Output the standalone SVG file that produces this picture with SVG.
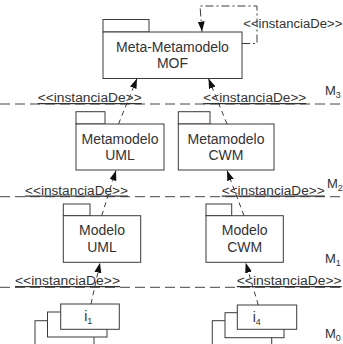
<svg xmlns="http://www.w3.org/2000/svg" width="343" height="344" viewBox="0 0 343 344">
<style>
.box{fill:#fff;stroke:#3a3a3a;stroke-width:1}
.nt{font-family:"Liberation Sans",Arial,sans-serif;font-size:14px;fill:#333;text-anchor:middle}
.lbl{font-family:"Liberation Sans",Arial,sans-serif;font-size:12.5px;fill:#333;text-decoration:underline}
.lvl{font-family:"Liberation Sans",Arial,sans-serif;font-size:13px;fill:#333}
.sub{font-size:9px}
.sep{stroke:#444;stroke-width:1;stroke-dasharray:10,5;fill:none}
.dep{stroke:#3a3a3a;stroke-width:1;stroke-dasharray:5,4;fill:none;marker-end:url(#ah)}
.loop{stroke:#3a3a3a;stroke-width:1;stroke-dasharray:8,3,2,3;fill:none;marker-end:url(#ah)}
</style>
<defs>
<marker id="ah" markerUnits="userSpaceOnUse" markerWidth="11" markerHeight="8" refX="10" refY="3.5" orient="auto">
<path d="M0,0 L10,3.5 L0,7 z" fill="#111"/>
</marker>
</defs>
<rect width="343" height="344" fill="#fff"/>
<g id="separators">
<line class="sep" x1="0" y1="104" x2="343" y2="104"/>
<line class="sep" x1="0" y1="196.7" x2="343" y2="196.7"/>
<line class="sep" x1="0" y1="287.3" x2="343" y2="287.3"/>
</g>
<g id="levels">
<text class="lvl" x="325" y="95">M<tspan class="sub" dy="3">3</tspan></text>
<text class="lvl" x="327" y="188">M<tspan class="sub" dy="3">2</tspan></text>
<text class="lvl" x="325" y="263">M<tspan class="sub" dy="3">1</tspan></text>
<text class="lvl" x="325" y="338">M<tspan class="sub" dy="3">0</tspan></text>
</g>
<g id="mof">
<rect class="box" x="103" y="19.5" width="46" height="12.5"/>
<rect class="box" x="103" y="32" width="139" height="46.5"/>
<text class="nt" x="172.5" y="52">Meta-Metamodelo</text>
<text class="nt" x="172.5" y="68">MOF</text>
</g>
<g id="metamodelo-uml">
<rect class="box" x="76" y="111.7" width="29" height="12.3"/>
<rect class="box" x="76" y="124" width="88" height="46"/>
<text class="nt" x="120" y="143.5">Metamodelo</text>
<text class="nt" x="120" y="160">UML</text>
</g>
<g id="metamodelo-cwm">
<rect class="box" x="178.3" y="111.7" width="31.7" height="12.3"/>
<rect class="box" x="178.3" y="124" width="95.7" height="46"/>
<text class="nt" x="226" y="143.5">Metamodelo</text>
<text class="nt" x="226" y="160">CWM</text>
</g>
<g id="modelo-uml">
<rect class="box" x="63.3" y="204" width="26.7" height="11.7"/>
<rect class="box" x="63.3" y="215.7" width="77.4" height="46.6"/>
<text class="nt" x="102" y="235">Modelo</text>
<text class="nt" x="102" y="251.7">UML</text>
</g>
<g id="modelo-cwm">
<rect class="box" x="206" y="204" width="25.7" height="11.7"/>
<rect class="box" x="206" y="215.7" width="77.3" height="46.6"/>
<text class="nt" x="244.7" y="235">Modelo</text>
<text class="nt" x="244.7" y="251.7">CWM</text>
</g>
<g id="i1">
<rect class="box" x="35" y="320.7" width="59" height="30"/>
<rect class="box" x="47.5" y="312" width="59.5" height="25"/>
<rect class="box" x="60.7" y="304" width="58.6" height="25.3"/>
<text class="nt" x="88.3" y="321">i<tspan class="sub" dy="3">1</tspan></text>
</g>
<g id="i4">
<rect class="box" x="212.3" y="320.7" width="59.4" height="30"/>
<rect class="box" x="225" y="312.7" width="59" height="25"/>
<rect class="box" x="237.3" y="305" width="59.4" height="24.3"/>
<text class="nt" x="256.7" y="321.7">i<tspan class="sub" dy="3">4</tspan></text>
</g>
<g id="connectors">
<path class="loop" d="M242,43.5 H257 V6 H200 L202,31.5"/>
<path class="dep" d="M118.5,124 L137,78.5"/>
<path class="dep" d="M227,124 L208.5,78.5"/>
<path class="dep" d="M101.7,215.7 L116,170.5"/>
<path class="dep" d="M244,215.7 L227,170.5"/>
<path class="dep" d="M91,304 L100,262.8"/>
<path class="dep" d="M258.3,305 L245.7,262.8"/>
</g>
<g id="labels">
<text class="lbl" x="37.7" y="102" textLength="104" lengthAdjust="spacingAndGlyphs">&lt;&lt;instanciaDe&gt;&gt;</text>
<text class="lbl" x="203.3" y="102" textLength="103" lengthAdjust="spacingAndGlyphs">&lt;&lt;instanciaDe&gt;&gt;</text>
<text class="lbl" x="25" y="194.5" textLength="103" lengthAdjust="spacingAndGlyphs">&lt;&lt;instanciaDe&gt;&gt;</text>
<text class="lbl" x="221.7" y="194.5" textLength="103" lengthAdjust="spacingAndGlyphs">&lt;&lt;instanciaDe&gt;&gt;</text>
<text class="lbl" x="15" y="285" textLength="105" lengthAdjust="spacingAndGlyphs">&lt;&lt;instanciaDe&gt;&gt;</text>
<text class="lbl" x="236.7" y="285" textLength="105" lengthAdjust="spacingAndGlyphs">&lt;&lt;instanciaDe&gt;&gt;</text>
<text class="lbl" x="243.3" y="28.3" textLength="99" lengthAdjust="spacingAndGlyphs" style="text-decoration:none">&lt;&lt;instanciaDe&gt;&gt;</text>
</g>
</svg>
